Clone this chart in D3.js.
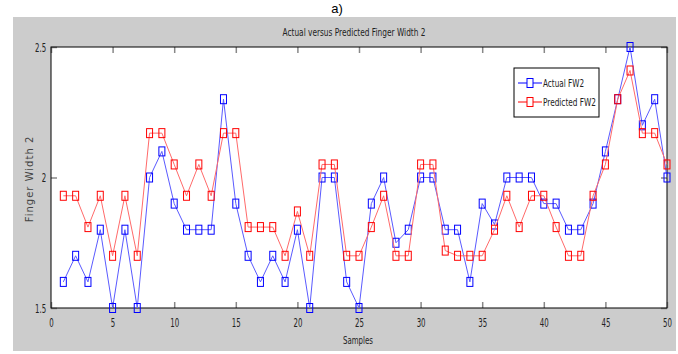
<!DOCTYPE html>
<html>
<head>
<meta charset="utf-8">
<script src="https://cdn.jsdelivr.net/npm/d3@7"></script>
<style>
  body { margin: 0; background: #fff; }
  text { font-family: "Liberation Sans Narrow", "Arial Narrow", "DejaVu Sans Condensed", sans-serif; }
</style>
</head>
<body>
<div id="chart"></div>
<script>
// samples 1..50
const samples = d3.range(1, 51);

const actualFW2 = [
  1.6, 1.7, 1.6, 1.8, 1.5, 1.8, 1.5, 2.0, 2.1, 1.9,
  1.8, 1.8, 1.8, 2.3, 1.9, 1.7, 1.6, 1.7, 1.6, 1.8,
  1.5, 2.0, 2.0, 1.6, 1.5, 1.9, 2.0, 1.75, 1.8, 2.0,
  2.0, 1.8, 1.8, 1.6, 1.9, 1.82, 2.0, 2.0, 2.0, 1.9,
  1.9, 1.8, 1.8, 1.9, 2.1, 2.3, 2.5, 2.2, 2.3, 2.0
];

const predictedFW2 = [
  1.93, 1.93, 1.81, 1.93, 1.7, 1.93, 1.7, 2.17, 2.17, 2.05,
  1.93, 2.05, 1.93, 2.17, 2.17, 1.81, 1.81, 1.81, 1.7, 1.87,
  1.7, 2.05, 2.05, 1.7, 1.7, 1.81, 1.93, 1.7, 1.7, 2.05,
  2.05, 1.72, 1.7, 1.7, 1.7, 1.8, 1.93, 1.81, 1.93, 1.93,
  1.81, 1.7, 1.7, 1.93, 2.05, 2.3, 2.41, 2.17, 2.17, 2.05
];

const xTicks = [0, 5, 10, 15, 20, 25, 30, 35, 40, 45, 50];
const yTicks = [1.5, 2, 2.5];

const series = [
  { name: 'Actual FW2', values: actualFW2, line: '#5a5aff', mark: '#0000ff', len: 41 },
  { name: 'Predicted FW2', values: predictedFW2, line: '#ff6a6a', mark: '#ff0000', len: 53 }
];

const W = 678, H = 354;
const plot = { left: 51, top: 47, right: 667, bottom: 308 };

const svg = d3.select('#chart').append('svg')
  .attr('width', W)
  .attr('height', H);

// figure background
svg.append('rect')
  .attr('x', 13).attr('y', 17)
  .attr('width', 663).attr('height', 334)
  .attr('fill', '#cccccc');

svg.append('text')
  .attr('x', 337).attr('y', 13)
  .attr('text-anchor', 'middle')
  .attr('font-size', 13)
  .style('font-family', 'Liberation Sans, Arial, sans-serif')
  .text('a)');

const x = d3.scaleLinear().domain([0, 50]).range([plot.left, plot.right]);
const y = d3.scaleLinear().domain([1.5, 2.5]).range([plot.bottom, plot.top]);

svg.append('rect')
  .attr('x', plot.left).attr('y', plot.top)
  .attr('width', plot.right - plot.left)
  .attr('height', plot.bottom - plot.top)
  .attr('fill', '#fff');

// axes with inward ticks, narrow labels
const styleAxis = g => {
  g.select('.domain').remove();
  g.selectAll('.tick line').attr('stroke', '#888').attr('stroke-width', 1.5);
  g.selectAll('.tick text')
    .attr('fill', '#222')
    .attr('font-size', 13)
    .attr('transform', 'scale(0.6,1)');
};

svg.append('g')
  .attr('transform', `translate(0,${plot.bottom})`)
  .call(d3.axisBottom(x).tickValues(xTicks).tickSize(-6).tickPadding(10).tickFormat(d3.format('d')))
  .call(styleAxis);

svg.append('g')
  .attr('transform', `translate(0,${plot.top})`)
  .call(d3.axisTop(x).tickValues(xTicks).tickSize(-6).tickFormat(''))
  .call(styleAxis);

svg.append('g')
  .attr('transform', `translate(${plot.left},0)`)
  .call(d3.axisLeft(y).tickValues(yTicks).tickSize(-6).tickPadding(8).tickFormat(d3.format('')))
  .call(styleAxis);

svg.append('g')
  .attr('transform', `translate(${plot.right},0)`)
  .call(d3.axisRight(y).tickValues(yTicks).tickSize(-6).tickFormat(''))
  .call(styleAxis);

// plot border
svg.append('rect')
  .attr('x', plot.left).attr('y', plot.top)
  .attr('width', plot.right - plot.left)
  .attr('height', plot.bottom - plot.top)
  .attr('fill', 'none')
  .attr('stroke', '#000')
  .attr('stroke-width', 1);

const line = d3.line()
  .x((d, i) => x(samples[i]))
  .y(d => y(d));

const mw = 6, mh = 9;

series.forEach(s => {
  svg.append('path')
    .datum(s.values)
    .attr('d', line)
    .attr('fill', 'none')
    .attr('stroke', s.line)
    .attr('stroke-width', 1);

  svg.append('g')
    .selectAll('rect')
    .data(s.values)
    .join('rect')
    .attr('x', (d, i) => x(samples[i]) - mw / 2)
    .attr('y', d => y(d) - mh / 2)
    .attr('width', mw)
    .attr('height', mh)
    .attr('fill', 'none')
    .attr('stroke', s.mark)
    .attr('stroke-width', 1);
});

// legend
const legend = svg.append('g');
legend.append('rect')
  .attr('x', 514).attr('y', 68)
  .attr('width', 85).attr('height', 49)
  .attr('fill', '#fff')
  .attr('stroke', '#000');

series.forEach((s, i) => {
  const ly = 83 + i * 19;
  legend.append('line')
    .attr('x1', 518).attr('x2', 542)
    .attr('y1', ly).attr('y2', ly)
    .attr('stroke', s.mark);
  legend.append('rect')
    .attr('x', 530 - mw / 2).attr('y', ly - mh / 2)
    .attr('width', mw).attr('height', mh)
    .attr('fill', '#fff')
    .attr('stroke', s.mark);
  legend.append('text')
    .attr('x', 543).attr('y', ly + 4)
    .attr('font-size', 11)
    .attr('fill', '#222')
    .attr('textLength', s.len)
    .attr('lengthAdjust', 'spacingAndGlyphs')
    .text(s.name);
});

// title and labels
svg.append('text')
  .attr('x', 354).attr('y', 36)
  .attr('text-anchor', 'middle')
  .attr('font-size', 11)
  .attr('fill', '#222')
  .attr('textLength', 143)
  .attr('lengthAdjust', 'spacingAndGlyphs')
  .text('Actual versus Predicted Finger Width 2');

svg.append('text')
  .attr('x', 358).attr('y', 344)
  .attr('text-anchor', 'middle')
  .attr('font-size', 11)
  .attr('fill', '#222')
  .attr('textLength', 30)
  .attr('lengthAdjust', 'spacingAndGlyphs')
  .text('Samples');

svg.append('text')
  .attr('transform', 'translate(33,179) rotate(-90)')
  .attr('text-anchor', 'middle')
  .attr('font-size', 10)
  .attr('fill', '#444')
  .attr('letter-spacing', 1)
  .style('font-family', 'DejaVu Sans, sans-serif')
  .text('Finger Width 2');
</script>
</body>
</html>
